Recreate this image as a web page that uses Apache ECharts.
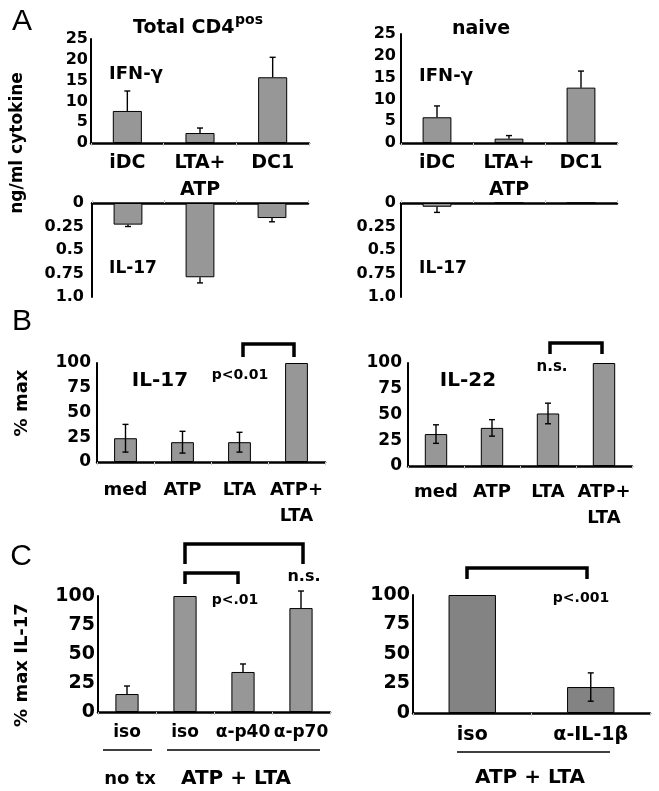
<!DOCTYPE html>
<html><head><meta charset="utf-8">
<script src="https://cdn.jsdelivr.net/npm/echarts@6/dist/echarts.min.js"></script>
<style>html,body{margin:0;padding:0;background:#fff}#c{width:659px;height:791px}</style>
</head><body><div id="c"></div><script>
// ---------- data ----------
const catsA = ['iDC', 'LTA+\nATP', 'DC1'];
const ifnTotal = [7.7, 2.4, 15.8];
const ifnTotalErr = [4.8, 1.2, 4.8];
const il17Total = [0.23, 0.79, 0.16];
const il17TotalErr = [0.02, 0.06, 0.04];
const ifnNaive = [5.9, 1.0, 12.7];
const ifnNaiveErr = [2.6, 0.7, 3.8];
const il17Naive = [0.04, 0, 0];
const il17NaiveErr = [0.06, 0, 0];
const ticksIL17 = ['0', '0.25', '0.5', '0.75', '1.0'];

const catsB = ['med', 'ATP', 'LTA', 'ATP+\nLTA'];
const il17B = [24, 20, 20, 100];
const il17BErr = [14, 11, 10, 0];
const il22B = [31, 37, 51, 100];
const il22BErr = [9, 8, 10, 0];

const catsC1 = ['iso', 'iso', 'α-p40', 'α-p70'];
const il17C1 = [15.5, 100, 34.5, 89.6];
const il17C1Err = [6.9, 0, 6.9, 14.7];
const catsC2 = ['iso', 'α-IL-1β'];
const il17C2 = [100, 22];
const il17C2Err = [0, 12];

// ---------- panels ----------
const FF = '"DejaVu Sans"';
const panels = [
  {g:{left:91,top:39,width:218,height:104}, cats:catsA, vals:ifnTotal, err:ifnTotalErr, two:false, max:25, iv:5, tf:16, tm:3, lf:19, lm:7, lh:27, showX:true},
  {g:{left:92,top:203,width:216,height:94}, cats:catsA, vals:il17Total, err:il17TotalErr, two:false, max:1, iv:0.25, inverse:true, fmt:v=>ticksIL17[Math.round(v/0.25)], tf:16, tm:8, showX:false},
  {g:{left:401,top:34,width:216,height:109}, cats:catsA, vals:ifnNaive, err:ifnNaiveErr, two:false, max:25, iv:5, tf:16, tm:5, lf:19, lm:7, lh:27, showX:true},
  {g:{left:401,top:203,width:216,height:94}, cats:catsA, vals:il17Naive, err:il17NaiveErr, two:false, max:1, iv:0.25, inverse:true, fmt:v=>ticksIL17[Math.round(v/0.25)], tf:16, tm:5, showX:false},
  {g:{left:97,top:363,width:228,height:99}, cats:catsB, vals:il17B, err:il17BErr, two:true, max:100, iv:25, tf:17, tm:6, lf:18, lm:15, lh:26, showX:true},
  {g:{left:408,top:363,width:224,height:103}, cats:catsB, vals:il22B, err:il22BErr, two:true, max:100, iv:25, tf:17, tm:6, lf:18, lm:13, lh:26, showX:true},
  {g:{left:98,top:596,width:232,height:116}, cats:catsC1, vals:il17C1, err:il17C1Err, two:false, max:100, iv:25, tf:19, tm:3, lf:17, lm:10, lh:22, showX:true},
  {g:{left:413,top:595,width:237,height:118}, cats:catsC2, vals:il17C2, err:il17C2Err, two:true, max:100, iv:25, tf:19, tm:3, lf:19, lm:11, lh:22, showX:true, color:'#838383'}
];

function errRender(two, cap) {
  return function (params, api) {
    const i = api.value(0), v = api.value(1), e = api.value(2);
    if (!e) return null;
    const lo = two ? v - e : v, hi = v + e;
    const p1 = api.coord([i, lo]), p2 = api.coord([i, hi]);
    const st = {stroke:'#000', lineWidth:1.4};
    const ch = [
      {type:'line', shape:{x1:p1[0], y1:p1[1], x2:p2[0], y2:p2[1]}, style:st},
      {type:'line', shape:{x1:p2[0]-cap, y1:p2[1], x2:p2[0]+cap, y2:p2[1]}, style:st}
    ];
    if (two) ch.push({type:'line', shape:{x1:p1[0]-cap, y1:p1[1], x2:p1[0]+cap, y2:p1[1]}, style:st});
    return {type:'group', children:ch};
  };
}

const grid = [], xAxis = [], yAxis = [], series = [];
panels.forEach((p, k) => {
  grid.push(Object.assign({containLabel:false}, p.g));
  xAxis.push({
    type:'category', gridIndex:k, data:p.cats, boundaryGap:true,
    position: p.inverse ? 'top' : 'bottom',
    axisLine:{show:true, onZero:false, lineStyle:{color:'#000', width:2.5}},
    axisTick:{show:true, inside:false, length:3, lineStyle:{color:'#c8c8c8', width:1}},
    axisLabel:{show:p.showX, interval:0, color:'#000', fontFamily:FF, fontWeight:'bold', fontSize:p.lf||18, margin:p.lm||8, lineHeight:p.lh||22},
    splitLine:{show:false}
  });
  yAxis.push({
    type:'value', gridIndex:k, min:0, max:p.max, interval:p.iv, inverse:!!p.inverse,
    axisLine:{show:true, lineStyle:{color:'#000', width:2}},
    axisTick:{show:false}, splitLine:{show:false},
    axisLabel:{show:true, color:'#000', fontFamily:FF, fontWeight:'bold', fontSize:p.tf, margin:p.tm,
      formatter: p.fmt || (v => String(v))}
  });
  series.push({
    type:'bar', xAxisIndex:k, yAxisIndex:k, data:p.vals, barWidth:'40%',
    itemStyle:{color:p.color || '#979797', borderColor:'#000', borderWidth:1},
    emphasis:{disabled:true}, silent:true
  });
  series.push({
    type:'custom', xAxisIndex:k, yAxisIndex:k, clip:false, z:5, silent:true,
    data:p.vals.map((v, i) => [i, v, p.err[i]]),
    encode:{x:0, y:1},
    renderItem: errRender(p.two, 3)
  });
});

// ---------- annotations ----------
function T(text, x, y, size, o) {
  o = o || {};
  return {type:'text', x:x, y:y, rotation:o.rot || 0, z:10, silent:true,
    style:{text:text, fill:'#000', font:(o.w || 'bold') + ' ' + size + 'px ' + (o.ff || FF),
      textAlign:o.align || 'center', textVerticalAlign:'middle'}};
}
function PL(points, w) {
  return {type:'polyline', z:10, silent:true, shape:{points:points}, style:{stroke:'#000', lineWidth:w || 3.5, fill:null, lineJoin:'miter'}};
}
const graphic = [
  T('A', 22, 22, 30, {w:'normal', ff:'"Liberation Sans"'}),
  T('B', 22, 322, 30, {w:'normal', ff:'"Liberation Sans"'}),
  T('C', 21, 557, 30, {w:'normal', ff:'"Liberation Sans"'}),
  T('Total CD4', 133, 28, 19, {align:'left'}),
  T('pos', 235, 20, 14, {align:'left'}),
  T('naive', 481, 29, 19),
  T('ng/ml cytokine', 18, 143, 17, {rot:Math.PI/2}),
  T('IFN-γ', 136, 74, 18),
  T('IFN-γ', 446, 76, 18),
  T('IL-17', 133, 269, 17),
  T('IL-17', 443, 269, 17),
  T('% max', 22, 403, 18, {rot:Math.PI/2}),
  T('IL-17', 160, 381, 20),
  T('p<0.01', 240, 375, 14),
  T('IL-22', 468, 381, 20),
  T('n.s.', 552, 367, 15),
  T('% max IL-17', 22, 665, 18, {rot:Math.PI/2}),
  T('p<.01', 235, 600, 14),
  T('n.s.', 304, 577, 16),
  T('p<.001', 581, 598, 14),
  T('no tx', 130, 779, 18),
  T('ATP + LTA', 236, 779, 20),
  T('ATP + LTA', 530, 778, 20),
  // brackets
  PL([[243,357],[243,344],[294,344],[294,357]]),
  PL([[550,354],[550,343],[602,343],[602,354]]),
  PL([[185,564],[185,544],[303,544],[303,564]]),
  PL([[185,584],[185,573],[238,573],[238,584]]),
  PL([[467,579],[467,568],[587,568],[587,579]]),
  // group underlines
  PL([[103,750],[152,750]], 1.5),
  PL([[167,750],[320,750]], 1.5),
  PL([[457,752],[610,752]], 1.5)
];

const chart = echarts.init(document.getElementById('c'), null, {renderer:'canvas', width:659, height:791});
chart.setOption({
  animation:false, backgroundColor:'#fff',
  grid:grid, xAxis:xAxis, yAxis:yAxis, series:series, graphic:graphic
});
</script></body></html>
